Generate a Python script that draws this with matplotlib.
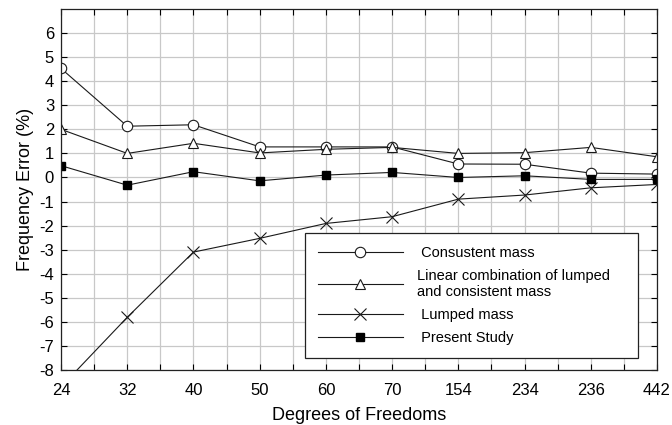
import numpy as np
import matplotlib
matplotlib.use("Agg")
from matplotlib import pyplot as plt
from matplotlib.ticker import MultipleLocator

plt.rcParams['font.family'] = ['Liberation Sans', 'DejaVu Sans']

# Degrees of freedom (used as category labels)
dof_labels = ["24", "32", "40", "50", "60", "70", "154", "234", "236", "442"]

# Frequency error (%) for each mass formulation
consistent = [4.53, 2.13, 2.19, 1.27, 1.27, 1.27, 0.56, 0.55, 0.18, 0.14]
linear_comb = [2.0, 1.0, 1.42, 1.02, 1.17, 1.25, 1.0, 1.03, 1.25, 0.86]
lumped = [-8.7, -5.81, -3.1, -2.53, -1.91, -1.63, -0.9, -0.73, -0.43, -0.29]
present = [0.49, -0.32, 0.24, -0.14, 0.1, 0.21, 0.0, 0.07, -0.08, -0.08]

x = np.arange(len(dof_labels))

fig = plt.figure(figsize=(6.72, 4.25), dpi=100)
ax = fig.add_axes([0.0908, 0.1294, 0.8869, 0.8494])

lc = "#1a1a1a"
ax.plot(x, consistent, color=lc, lw=0.8, marker="o", ms=7.5, mfc="white", mec=lc, mew=0.8,
        label=" Consustent mass")
ax.plot(x, linear_comb, color=lc, lw=0.8, marker="^", ms=7.5, mfc="white", mec=lc, mew=0.8,
        label="Linear combination of lumped\nand consistent mass")
ax.plot(x, lumped, color=lc, lw=0.8, marker="x", ms=8, mec=lc, mew=0.8,
        label=" Lumped mass")
ax.plot(x, present, color=lc, lw=0.8, marker="s", ms=5.5, mfc="black", mec="black",
        label=" Present Study")

ax.set_xlim(0, 9)
ax.set_ylim(-8, 7)
ax.set_xticks(x)
ax.set_xticklabels(dof_labels)
ax.xaxis.set_minor_locator(MultipleLocator(0.5))
ax.set_yticks(np.arange(-8, 7))
ax.set_yticklabels([str(v) for v in range(-8, 7)])

ax.grid(which="both", axis="x", color="#c8c8c8", lw=0.9)
ax.grid(which="major", axis="y", color="#c8c8c8", lw=0.9)
ax.set_axisbelow(True)

ax.tick_params(which="both", direction="in", top=True, right=True, length=4, width=0.8,
               labelsize=12)
ax.tick_params(axis="x", pad=9)
ax.tick_params(axis="y", pad=5)
for s in ax.spines.values():
    s.set_linewidth(0.9)
    s.set_color("#222222")

ax.set_xlabel("Degrees of Freedoms", fontsize=13, labelpad=7)
ax.set_ylabel("Frequency Error (%)", fontsize=13, labelpad=4)

# legend box stretched across a fixed span, entries left-aligned
leg = ax.legend(loc="lower left", bbox_to_anchor=(0.4094, 0.033, 0.5587, 0.4), mode="expand",
                borderaxespad=0, fontsize=10.5, fancybox=False, framealpha=1,
                edgecolor="#222222", handlelength=5.8, handletextpad=1.0,
                borderpad=0.9, labelspacing=0.62)
leg.get_frame().set_linewidth(0.9)

fig.savefig("out.png", dpi=100)
